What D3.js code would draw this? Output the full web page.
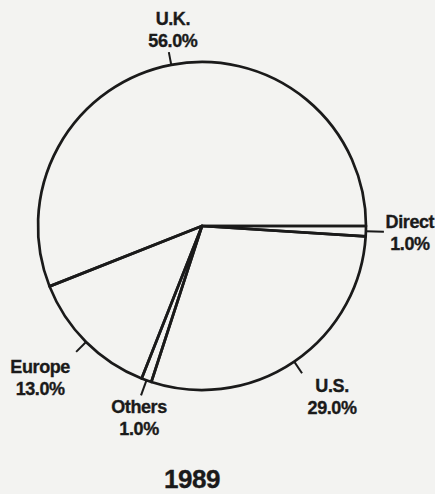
<!DOCTYPE html>
<html>
<head>
<meta charset="utf-8">
<script src="https://cdn.jsdelivr.net/npm/d3@7/dist/d3.min.js"></script>
<style>
  html, body { margin: 0; padding: 0; background: #f3f3f1; }
  svg { display: block; }
  text { font-family: "Liberation Sans", Arial, Helvetica, sans-serif; font-weight: bold; fill: #1a1a1a; stroke: #1a1a1a; stroke-width: 0.35px; }
</style>
</head>
<body>
<svg id="chart" width="435" height="494"></svg>
<script>
// ---- data ----
const categories = ["Direct", "U.S.", "Others", "Europe", "U.K."];
const shares = [1.0, 29.0, 1.0, 13.0, 56.0];
const title = "1989";

// ---- layout ----
const W = 435, H = 494;
const cx = 202, cy = 226, R = 164;
const ink = "#1a1a1a";

// label placement relative to the end of each leader line (text centre x, first baseline y)
const labelOffset = {
  "Direct": { lead: 18, dx: 26, dy: -4 },
  "U.S.":   { lead: 14, dx: 30, dy: 19 },
  "Others": { lead: 16, dx: -2, dy: 18 },
  "Europe": { lead: 14, dx: -36, dy: 21 },
  "U.K.":   { lead: 13, dx: 4, dy: -27 }
};

const data = categories.map((c, i) => ({ name: c, value: shares[i] }));

const svg = d3.select("#chart");
svg.append("rect").attr("width", W).attr("height", H).attr("fill", "#f3f3f1");

const g = svg.append("g").attr("transform", `translate(${cx},${cy})`);

const pie = d3.pie()
  .value(d => d.value)
  .sort(null)
  .startAngle(Math.PI / 2)
  .endAngle(Math.PI / 2 + 2 * Math.PI);

const arc = d3.arc().innerRadius(0).outerRadius(R);
const arcs = pie(data);

g.selectAll("path.slice")
  .data(arcs)
  .join("path")
  .attr("class", "slice")
  .attr("d", arc)
  .attr("fill", "none")
  .attr("stroke", ink)
  .attr("stroke-width", 2.7)
  .attr("stroke-linejoin", "round");

const fmt = d3.format(".1f");
const pt = (a, r) => [Math.sin(a) * r, -Math.cos(a) * r];

arcs.forEach(a => {
  const mid = (a.startAngle + a.endAngle) / 2;
  const o = labelOffset[a.data.name];
  const p0 = pt(mid, R);
  const p1 = pt(mid, R + o.lead);
  g.append("line")
    .attr("x1", p0[0]).attr("y1", p0[1])
    .attr("x2", p1[0]).attr("y2", p1[1])
    .attr("stroke", ink).attr("stroke-width", 2);
  const t = g.append("text")
    .attr("text-anchor", "middle")
    .attr("font-size", 18)
    .attr("letter-spacing", -0.4);
  t.append("tspan")
    .attr("x", p1[0] + o.dx).attr("y", p1[1] + o.dy)
    .text(a.data.name);
  t.append("tspan")
    .attr("x", p1[0] + o.dx).attr("y", p1[1] + o.dy + 22)
    .text(fmt(a.data.value) + "%");
});

svg.append("text")
  .attr("x", 192).attr("y", 488)
  .attr("text-anchor", "middle")
  .attr("font-size", 26)
  .attr("letter-spacing", -0.5)
  .text(title);
</script>
</body>
</html>
